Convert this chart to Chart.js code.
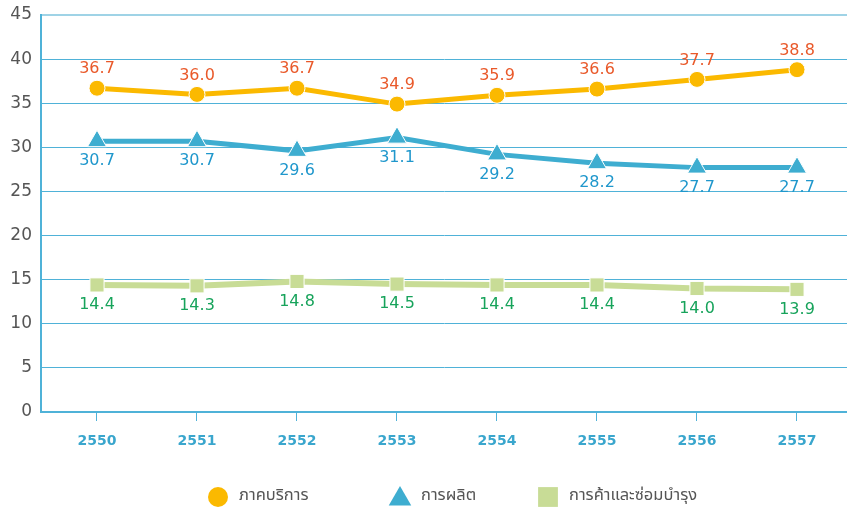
<!DOCTYPE html>
<html>
<head>
<meta charset="utf-8">
<script src="https://cdn.jsdelivr.net/npm/chart.js@4/dist/chart.umd.min.js"></script>
<style>
html,body{margin:0;padding:0;background:#fff;}
#wrap{width:847px;height:509px;}
</style>
</head>
<body>
<div id="wrap"><canvas id="c" width="847" height="509"></canvas></div>
<script>
const years = [2550, 2551, 2552, 2553, 2554, 2555, 2556, 2557];
const services = [36.7, 36.0, 36.7, 34.9, 35.9, 36.6, 37.7, 38.8];
const manufacturing = [30.7, 30.7, 29.6, 31.1, 29.2, 28.2, 27.7, 27.7];
const tradeRepair = [14.4, 14.3, 14.8, 14.5, 14.4, 14.4, 14.0, 13.9];
const seriesNames = ['ภาคบริการ', 'การผลิต', 'การค้าและซ่อมบำรุง'];
const yTicks = [0, 5, 10, 15, 20, 25, 30, 35, 40, 45];

const gridColor = '#4fb2d8';
const labelColors = ['#e9592a', '#1f97cc', '#17a35b'];

const valueLabels = {
  id: 'valueLabels',
  afterDatasetsDraw(chart) {
    const ctx = chart.ctx;
    ctx.save();
    ctx.font = '16px "DejaVu Sans", Verdana, sans-serif';
    ctx.textAlign = 'center';
    ctx.textBaseline = 'middle';
    chart.data.datasets.forEach((ds, i) => {
      const meta = chart.getDatasetMeta(i);
      ctx.fillStyle = labelColors[i];
      meta.data.forEach((pt, j) => {
        const v = ds.data[j].y;
        const dy = i === 0 ? -19 : 20;
        ctx.fillText(v.toFixed(1), pt.x, pt.y + dy);
      });
    });
    ctx.restore();
  }
};

const xLabels = {
  id: 'xLabels',
  afterDraw(chart) {
    const ctx = chart.ctx;
    const xs = chart.scales.x;
    ctx.save();
    ctx.font = 'bold 14px "DejaVu Sans", sans-serif';
    ctx.fillStyle = '#3aa6cd';
    ctx.textAlign = 'center';
    ctx.textBaseline = 'middle';
    years.forEach(v => ctx.fillText(String(v), xs.getPixelForValue(v), xs.top + 29));
    ctx.restore();
  }
};

const legendMarkerX = [218, 400, 548];
const legendMarkerR = [10, 13, 14];
const customLegend = {
  id: 'customLegend',
  afterDraw(chart) {
    const ctx = chart.ctx;
    const y = 497;
    ctx.save();
    chart.data.datasets.forEach((ds, i) => {
      ctx.fillStyle = ds.backgroundColor;
      ctx.strokeStyle = ds.backgroundColor;
      Chart.helpers.drawPoint(ctx, {pointStyle: ds.pointStyle, radius: legendMarkerR[i], borderWidth: 0, rotation: 0}, legendMarkerX[i], ds.pointStyle === 'triangle' ? y + 2 : y);
      ctx.fillStyle = '#555555';
      ctx.font = '16.5px "Noto Sans Thai", "Noto Sans", "DejaVu Sans", sans-serif';
      ctx.textAlign = 'left';
      ctx.textBaseline = 'middle';
      ctx.fillText(ds.label, legendMarkerX[i] + 21, y);
    });
    ctx.restore();
  }
};

const toXY = arr => arr.map((v, i) => ({x: years[i], y: v}));

new Chart(document.getElementById('c'), {
  type: 'line',
  data: {
    datasets: [
      {
        label: seriesNames[0],
        data: toXY(services),
        borderColor: '#fbb900',
        backgroundColor: '#fbb900',
        borderWidth: 5,
        pointStyle: 'circle',
        pointRadius: 8,
        pointBorderColor: '#ffffff',
        pointBorderWidth: 1,
        tension: 0
      },
      {
        label: seriesNames[1],
        data: toXY(manufacturing),
        borderColor: '#3eadd0',
        backgroundColor: '#3eadd0',
        borderWidth: 5,
        pointStyle: 'triangle',
        pointRadius: 11,
        pointBorderColor: '#ffffff',
        pointBorderWidth: 1,
        tension: 0
      },
      {
        label: seriesNames[2],
        data: toXY(tradeRepair),
        borderColor: '#c8dc96',
        backgroundColor: '#c8dc96',
        borderWidth: 6,
        pointStyle: 'rect',
        pointRadius: 10,
        pointBorderColor: '#ffffff',
        pointBorderWidth: 1,
        tension: 0
      }
    ]
  },
  options: {
    responsive: false,
    animation: false,
    devicePixelRatio: 1,
    layout: {autoPadding: false, padding: {top: 15, right: 0, left: 0, bottom: 45}},
    scales: {
      x: {
        type: 'linear',
        min: 2549.44,
        max: 2557.5,
        afterBuildTicks: s => { s.ticks = years.map(v => ({value: v})); },
        afterFit: s => { s.height = 52; },
        grid: {display: true, drawOnChartArea: false, drawTicks: true, tickLength: 9, color: gridColor, lineWidth: 1},
        border: {display: true, color: gridColor, width: 2},
        ticks: {display: false}
      },
      y: {
        min: 0,
        max: 45,
        afterBuildTicks: s => { s.ticks = yTicks.map(v => ({value: v})); },
        afterFit: s => { s.width = 41; s.paddingTop = 0; s.paddingBottom = 0; },
        grid: {
          color: ctx => ctx.tick && ctx.tick.value === 45 ? '#9fd3e6' : gridColor,
          lineWidth: ctx => ctx.tick && ctx.tick.value === 45 ? 2 : 1,
          drawTicks: false
        },
        border: {display: true, color: gridColor, width: 2},
        ticks: {
          color: '#555555',
          font: {family: '"DejaVu Sans", Verdana, sans-serif', size: 17},
          padding: 9
        }
      }
    },
    plugins: {
      legend: {display: false},
      tooltip: {enabled: false}
    }
  },
  plugins: [valueLabels, xLabels, customLegend]
});
</script>
</body>
</html>
